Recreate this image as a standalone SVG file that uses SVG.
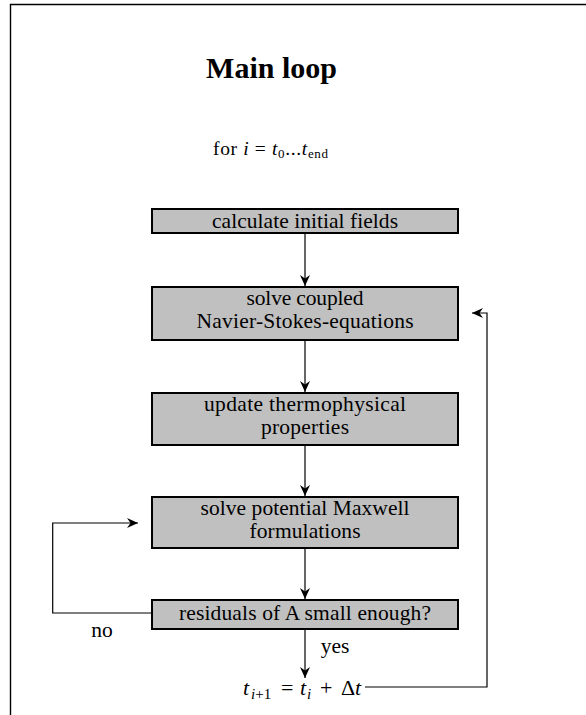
<svg xmlns="http://www.w3.org/2000/svg" width="586" height="715" viewBox="0 0 586 715">
<style>
  text { font-family: "Liberation Serif", "Times New Roman", serif; fill: #000; }
  .t { font-size: 21.5px; text-anchor: middle; }
  .box { fill: #c0c0c0; stroke: #000; stroke-width: 2; }
  .line { fill: none; stroke: #000; stroke-width: 1.2; }
  .it { font-style: italic; }
</style>
<defs>
  <marker id="arr" viewBox="-12 -7 13 14" refX="0" refY="0" markerWidth="13" markerHeight="14" markerUnits="userSpaceOnUse" orient="auto">
    <path d="M0,0 L-11,-5 L-7.5,0 L-11,5 Z" fill="#000"/>
  </marker>
</defs>
<rect x="0" y="0" width="586" height="715" fill="#fff"/>
<path d="M10.5,715 V4.5 H586" fill="none" stroke="#000" stroke-width="1.4"/>
<g id="title">
  <text x="271.5" y="78" font-size="30" font-weight="bold" text-anchor="middle">Main loop</text>
  <text x="213" y="155" font-size="19.5" textLength="115" lengthAdjust="spacing">for <tspan class="it">i</tspan> = <tspan class="it">t</tspan><tspan font-size="13" dy="3">0</tspan><tspan dy="-3">...</tspan><tspan class="it">t</tspan><tspan font-size="13" dy="3">end</tspan></text>
</g>
<g id="connectors">
  <line class="line" x1="305" y1="233" x2="305" y2="286" marker-end="url(#arr)"/>
  <line class="line" x1="305" y1="340" x2="305" y2="392" marker-end="url(#arr)"/>
  <line class="line" x1="305" y1="445" x2="305" y2="496" marker-end="url(#arr)"/>
  <line class="line" x1="305" y1="548" x2="305" y2="599" marker-end="url(#arr)"/>
  <line class="line" x1="305" y1="629" x2="305" y2="678" marker-end="url(#arr)"/>
  <path class="line" d="M152,613 H52.7 V523 H138" marker-end="url(#arr)"/>
  <path class="line" d="M365,687 H487 V313 H472" marker-end="url(#arr)"/>
  <text x="102" y="637" font-size="21.5" text-anchor="middle">no</text>
  <text x="335" y="653" font-size="21.5" text-anchor="middle">yes</text>
</g>
<g id="n1">
  <rect class="box" x="152" y="209" width="306" height="24"/>
  <text class="t" x="305" y="228" textLength="186" lengthAdjust="spacing">calculate initial fields</text>
</g>
<g id="n2">
  <rect class="box" x="152" y="287" width="306" height="53"/>
  <text class="t" x="305" y="305" textLength="117" lengthAdjust="spacing">solve coupled</text>
  <text class="t" x="305" y="328" textLength="217" lengthAdjust="spacing">Navier-Stokes-equations</text>
</g>
<g id="n3">
  <rect class="box" x="152" y="393" width="306" height="52"/>
  <text class="t" x="305" y="411" textLength="202" lengthAdjust="spacing">update thermophysical</text>
  <text class="t" x="305" y="434" textLength="88" lengthAdjust="spacing">properties</text>
</g>
<g id="n4">
  <rect class="box" x="152" y="497" width="306" height="51"/>
  <text class="t" x="305" y="515" textLength="209" lengthAdjust="spacing">solve potential Maxwell</text>
  <text class="t" x="305" y="538" textLength="111" lengthAdjust="spacing">formulations</text>
</g>
<g id="n5">
  <rect class="box" x="152" y="600" width="306" height="29"/>
  <text class="t" x="305" y="620" textLength="252" lengthAdjust="spacing">residuals of A small enough?</text>
</g>
<g id="n6">
  <text y="695" font-size="22"><tspan class="it" x="243">t</tspan><tspan x="251" dy="4" font-size="15"><tspan class="it">i</tspan>+1</tspan><tspan x="281" dy="-4">=</tspan><tspan class="it" x="300">t</tspan><tspan class="it" x="307" dy="4" font-size="15">i</tspan><tspan x="320" dy="-4">+</tspan><tspan x="341">Δ</tspan><tspan class="it" x="355">t</tspan></text>
</g>
</svg>
